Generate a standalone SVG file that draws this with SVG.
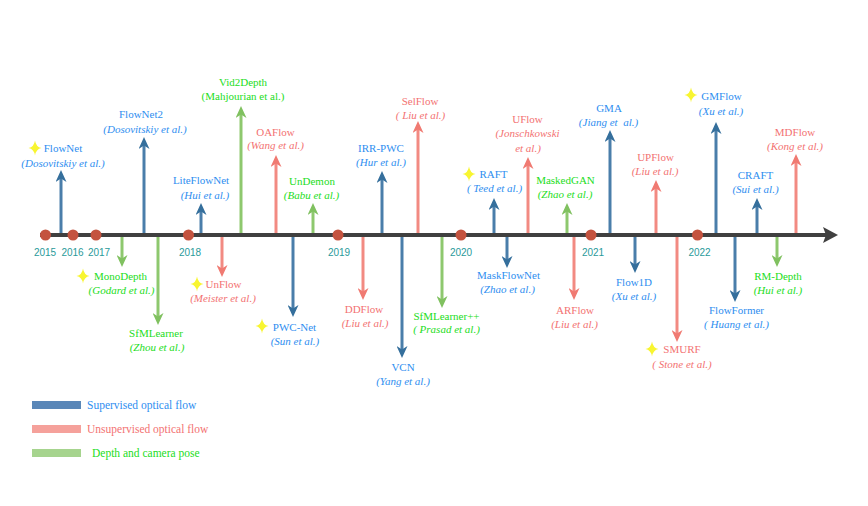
<svg xmlns="http://www.w3.org/2000/svg" width="868" height="506" viewBox="0 0 868 506">
<defs>
<style>
.t{font-family:"Liberation Serif","Times New Roman",serif;font-size:11px;text-anchor:middle}
.i{font-style:italic}
.b{fill:#2e8ef0}.r{fill:#f37272}.g{fill:#22dd22}
.yr{font-family:"Liberation Sans",Arial,sans-serif;font-size:10px;fill:#2a9a9a;text-anchor:middle}
.lg{font-family:"Liberation Serif","Times New Roman",serif;font-size:11.5px}
.cb{stroke:#4a7eaa;stroke-width:3;fill:none;marker-end:url(#hb)}
.cr{stroke:#f28a82;stroke-width:3;fill:none;marker-end:url(#hr)}
.cg{stroke:#8ec86e;stroke-width:3;fill:none;marker-end:url(#hg)}
.star{fill:#f8f530}
.dot{fill:#c4533f}
</style>
<marker id="hb" markerUnits="userSpaceOnUse" markerWidth="12" markerHeight="11" viewBox="0 0 12 11" refX="7" refY="5.5" orient="auto"><path d="M0,0 L12,5.5 L0,11 L3.5,5.5 Z" fill="#356f9c"/></marker>
<marker id="hr" markerUnits="userSpaceOnUse" markerWidth="12" markerHeight="11" viewBox="0 0 12 11" refX="7" refY="5.5" orient="auto"><path d="M0,0 L12,5.5 L0,11 L3.5,5.5 Z" fill="#f07a72"/></marker>
<marker id="hg" markerUnits="userSpaceOnUse" markerWidth="12" markerHeight="11" viewBox="0 0 12 11" refX="7" refY="5.5" orient="auto"><path d="M0,0 L12,5.5 L0,11 L3.5,5.5 Z" fill="#80c160"/></marker>
<path id="star" d="M0,-7.5 Q1,-1 6.5,0 Q1,1 0,7.5 Q-1,1 -6.5,0 Q-1,-1 0,-7.5 Z"/>
</defs>
<rect width="868" height="506" fill="#ffffff"/>

<g id="connectors">
<line class="cb" x1="61" y1="235" x2="61" y2="175"/>
<line class="cb" x1="144" y1="235" x2="144" y2="142"/>
<line class="cb" x1="201" y1="235" x2="201" y2="208"/>
<line class="cg" x1="241" y1="235" x2="241" y2="111"/>
<line class="cr" x1="276" y1="235" x2="276" y2="160"/>
<line class="cg" x1="313" y1="235" x2="313" y2="208"/>
<line class="cb" x1="382" y1="235" x2="382" y2="176"/>
<line class="cr" x1="418" y1="235" x2="418" y2="126"/>
<line class="cb" x1="494" y1="235" x2="494" y2="203"/>
<line class="cr" x1="528" y1="235" x2="528" y2="162"/>
<line class="cg" x1="567" y1="235" x2="567" y2="208"/>
<line class="cb" x1="610" y1="235" x2="610" y2="135"/>
<line class="cr" x1="656" y1="235" x2="656" y2="185"/>
<line class="cb" x1="716" y1="235" x2="716" y2="127"/>
<line class="cb" x1="757" y1="235" x2="757" y2="203"/>
<line class="cr" x1="796" y1="235" x2="796" y2="159"/>

<line class="cg" x1="122" y1="235" x2="122" y2="262"/>
<line class="cg" x1="158" y1="235" x2="158" y2="320"/>
<line class="cr" x1="222" y1="235" x2="222" y2="272"/>
<line class="cb" x1="293" y1="235" x2="293" y2="312"/>
<line class="cr" x1="363" y1="235" x2="363" y2="295"/>
<line class="cb" x1="402" y1="235" x2="402" y2="353"/>
<line class="cg" x1="442" y1="235" x2="442" y2="303"/>
<line class="cb" x1="507" y1="235" x2="507" y2="263"/>
<line class="cr" x1="574" y1="235" x2="574" y2="295"/>
<line class="cb" x1="635" y1="235" x2="635" y2="268"/>
<line class="cr" x1="677" y1="235" x2="677" y2="337"/>
<line class="cb" x1="735" y1="235" x2="735" y2="297"/>
<line class="cg" x1="777" y1="235" x2="777" y2="262"/>
</g>

<g id="timeline">
<line x1="40" y1="235" x2="826" y2="235" stroke="#404040" stroke-width="4"/>
<path d="M823,227 L838,235 L823,243 L826,235 Z" fill="#404040"/>
<circle class="dot" cx="45.5" cy="235" r="5.5"/>
<circle class="dot" cx="73" cy="235" r="5.5"/>
<circle class="dot" cx="96" cy="235" r="5.5"/>
<circle class="dot" cx="188.5" cy="235" r="5.5"/>
<circle class="dot" cx="338" cy="235" r="5.5"/>
<circle class="dot" cx="461" cy="235" r="5.5"/>
<circle class="dot" cx="591" cy="235" r="5.5"/>
<circle class="dot" cx="697.5" cy="235" r="5.5"/>
<text class="yr" x="45" y="256">2015</text>
<text class="yr" x="72.5" y="256">2016</text>
<text class="yr" x="99" y="256">2017</text>
<text class="yr" x="190" y="256">2018</text>
<text class="yr" x="339" y="256">2019</text>
<text class="yr" x="461" y="256">2020</text>
<text class="yr" x="593" y="256">2021</text>
<text class="yr" x="699.5" y="256">2022</text>
</g>

<g id="flownet"><use href="#star" class="star" x="35" y="148"/><text class="t b" x="63" y="152">FlowNet</text><text class="t b i" x="63" y="167">(Dosovitskiy et al.)</text></g>
<g id="flownet2"><text class="t b" x="141" y="118">FlowNet2</text><text class="t b i" x="145" y="133">(Dosovitskiy et al.)</text></g>
<g id="liteflownet"><text class="t b" x="201" y="184">LiteFlowNet</text><text class="t b i" x="205" y="199">(Hui et al.)</text></g>
<g id="vid2depth"><text class="t g" x="243" y="86">Vid2Depth</text><text class="t g" x="243" y="100">(Mahjourian et al.)</text></g>
<g id="oaflow"><text class="t r" x="275.5" y="136">OAFlow</text><text class="t r i" x="275.5" y="149">(Wang et al.)</text></g>
<g id="undemon"><text class="t g" x="312" y="185">UnDemon</text><text class="t g i" x="311.5" y="199">(Babu et al.)</text></g>
<g id="irr-pwc"><text class="t b" x="381" y="152">IRR-PWC</text><text class="t b i" x="381" y="166">(Hur et al.)</text></g>
<g id="selflow"><text class="t r" x="420" y="105">SelFlow</text><text class="t r i" x="420.5" y="119">( Liu et al.)</text></g>
<g id="raft"><use href="#star" class="star" x="469" y="174"/><text class="t b" x="493.5" y="178">RAFT</text><text class="t b i" x="494.5" y="192">( Teed et al.)</text></g>
<g id="uflow"><text class="t r" x="527.5" y="123">UFlow</text><text class="t r i" x="527.5" y="137">(Jonschkowski</text><text class="t r i" x="528" y="152">et al.)</text></g>
<g id="maskedgan"><text class="t g" x="565.5" y="184">MaskedGAN</text><text class="t g i" x="565" y="198">(Zhao et al.)</text></g>
<g id="gma"><text class="t b" x="609" y="112">GMA</text><text class="t b i" x="608.5" y="126" xml:space="preserve">(Jiang et  al.)</text></g>
<g id="upflow"><text class="t r" x="655.5" y="161">UPFlow</text><text class="t r i" x="655" y="175">(Liu et al.)</text></g>
<g id="gmflow"><use href="#star" class="star" x="691" y="95"/><text class="t b" x="721.5" y="100">GMFlow</text><text class="t b i" x="721" y="115">(Xu et al.)</text></g>
<g id="craft"><text class="t b" x="755.5" y="179">CRAFT</text><text class="t b i" x="755.5" y="193">(Sui et al.)</text></g>
<g id="mdflow"><text class="t r" x="795" y="136">MDFlow</text><text class="t r i" x="795" y="150">(Kong et al.)</text></g>

<g id="monodepth"><use href="#star" class="star" x="83" y="276"/><text class="t g" x="120.5" y="280">MonoDepth</text><text class="t g i" x="121.5" y="294">(Godard et al.)</text></g>
<g id="sfmlearner"><text class="t g" x="156" y="337">SfMLearner</text><text class="t g i" x="157" y="351">(Zhou et al.)</text></g>
<g id="unflow"><use href="#star" class="star" x="197" y="284"/><text class="t r" x="223.5" y="288">UnFlow</text><text class="t r i" x="223" y="302">(Meister et al.)</text></g>
<g id="pwc-net"><use href="#star" class="star" x="262" y="326"/><text class="t b" x="294.5" y="331">PWC-Net</text><text class="t b i" x="295" y="345">(Sun et al.)</text></g>
<g id="ddflow"><text class="t r" x="364" y="313">DDFlow</text><text class="t r i" x="365" y="327">(Liu et al.)</text></g>
<g id="vcn"><text class="t b" x="403" y="371">VCN</text><text class="t b i" x="403" y="385">(Yang et al.)</text></g>
<g id="sfmlearnerpp"><text class="t g" x="446.5" y="320">SfMLearner++</text><text class="t g i" x="446.5" y="333">( Prasad et al.)</text></g>
<g id="maskflownet"><text class="t b" x="508.5" y="279">MaskFlowNet</text><text class="t b i" x="507.5" y="293">(Zhao et al.)</text></g>
<g id="arflow"><text class="t r" x="575" y="314">ARFlow</text><text class="t r i" x="574.5" y="328">(Liu et al.)</text></g>
<g id="flow1d"><text class="t b" x="634" y="286">Flow1D</text><text class="t b i" x="634" y="300">(Xu et al.)</text></g>
<g id="smurf"><use href="#star" class="star" x="652" y="349"/><text class="t r" x="682" y="353">SMURF</text><text class="t r i" x="682" y="368">( Stone et al.)</text></g>
<g id="flowformer"><text class="t b" x="736.5" y="314">FlowFormer</text><text class="t b i" x="736.5" y="328">( Huang et al.)</text></g>
<g id="rm-depth"><text class="t g" x="778" y="280">RM-Depth</text><text class="t g i" x="778" y="294">(Hui et al.)</text></g>

<g id="legend">
<rect x="32" y="401" width="49" height="8" fill="#5a87b8"/>
<text class="lg b" x="87" y="409">Supervised optical flow</text>
<rect x="32" y="425" width="49" height="8" fill="#f5a19b"/>
<text class="lg r" x="87" y="433">Unsupervised optical flow</text>
<rect x="32" y="449" width="49" height="8" fill="#a6d48e"/>
<text class="lg g" x="92" y="457">Depth and camera pose</text>
</g>
</svg>
